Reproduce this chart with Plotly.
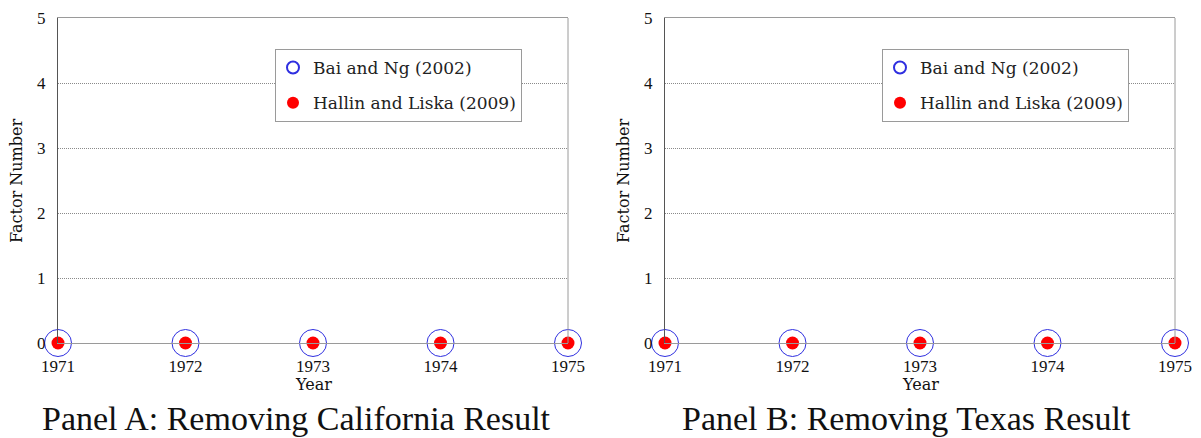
import plotly.graph_objects as go

years = [1971, 1972, 1973, 1974, 1975]
bai_ng_A = [0, 0, 0, 0, 0]
hallin_liska_A = [0, 0, 0, 0, 0]
bai_ng_B = [0, 0, 0, 0, 0]
hallin_liska_B = [0, 0, 0, 0, 0]
y_ticks = [0, 1, 2, 3, 4, 5]
panel_titles = ["Panel A: Removing California Result", "Panel B: Removing Texas Result"]
series_names = ["Bai and Ng (2002)", "Hallin and Liska (2009)"]

W, H = 1201, 438

def px(x):
    return x / W

def py(y):
    return 1 - y / H

TICKFONT = "Liberation Serif"
LABFONT = "DejaVu Serif"
BLUE = "#2f2fe0"
RED = "#ff0000"

fig = go.Figure()

panels = [
    dict(xa="x", ya="y", leg="legend", b=bai_ng_A, h=hallin_liska_A),
    dict(xa="x2", ya="y2", leg="legend2", b=bai_ng_B, h=hallin_liska_B),
]
for p in panels:
    fig.add_trace(go.Scatter(
        x=years, y=p["b"], mode="markers", name=series_names[0],
        xaxis=p["xa"], yaxis=p["ya"], legend=p["leg"], legendgroup="a" + p["leg"],
        cliponaxis=False,
        marker=dict(symbol="circle-open", size=27, color=BLUE, line=dict(width=1, color=BLUE)),
    ))
    fig.add_trace(go.Scatter(
        x=years, y=p["h"], mode="markers", name=series_names[1],
        xaxis=p["xa"], yaxis=p["ya"], legend=p["leg"], legendgroup="b" + p["leg"],
        cliponaxis=False,
        marker=dict(symbol="circle", size=13, color=RED),
    ))

top = py(18)
bot = py(343)
domA = [px(58), px(568)]
domB = [px(665), px(1175)]

def xaxis(dom, anchor):
    return dict(
        domain=dom, anchor=anchor, range=[1971, 1975], tickvals=years,
        ticktext=[str(v) for v in years], showgrid=False, zeroline=False,
        showline=True, linecolor="#9a9a9a", linewidth=1, mirror=True,
        ticks="", ticklabelstandoff=8, automargin=False,
        tickfont=dict(family=TICKFONT, size=17, color="#111"),
    )

def yaxis(anchor):
    return dict(
        domain=[bot, top], anchor=anchor, range=[0, 5], tickvals=y_ticks,
        showgrid=True, gridcolor="#8a8a8a", griddash="1px,1px", gridwidth=1,
        zeroline=False, showline=True, linecolor="#555555", linewidth=1,
        ticks="", ticklabelstandoff=8, automargin=False,
        tickfont=dict(family=TICKFONT, size=17, color="#111"),
    )

def legend(x):
    return dict(
        x=x, y=py(49), xanchor="left", yanchor="top",
        bgcolor="white", bordercolor="#9a9a9a", borderwidth=1,
        font=dict(family=LABFONT, size=17, color="#222"), itemsizing="constant",
        indentation=-3, tracegroupgap=10,
    )

fig.update_layout(
    width=W, height=H, margin=dict(l=0, r=0, t=0, b=0, autoexpand=False),
    font=dict(family=LABFONT),
    plot_bgcolor="white", paper_bgcolor="white",
    xaxis=xaxis(domA, "y"), yaxis=yaxis("x"),
    xaxis2=xaxis(domB, "y2"), yaxis2=yaxis("x2"),
    legend=legend(px(275)), legend2=legend(px(882)),
)

for dom, xa, ya, left in [(domA, "x", "y", 58), (domB, "x2", "y2", 665)]:
    fig.add_shape(type="line", xref=f"{xa} domain", yref=f"{ya} domain",
                  x0=1, x1=1, y0=0, y1=1, line=dict(color="#9a9a9a", width=1))
    cx = (dom[0] + dom[1]) / 2
    fig.add_annotation(x=cx, y=py(384), xref="paper", yref="paper", text="Year",
                       showarrow=False, xanchor="center", yanchor="middle",
                       font=dict(family=LABFONT, size=16, color="#111"))
    fig.add_annotation(x=px(left - 41), y=py(181), xref="paper", yref="paper",
                       text="Factor Number", textangle=-90, showarrow=False,
                       xanchor="center", yanchor="middle",
                       font=dict(family=LABFONT, size=16, color="#111"))

fig.add_annotation(x=px(296), y=py(418), xref="paper", yref="paper", text=panel_titles[0],
                   showarrow=False, xanchor="center", yanchor="middle",
                   font=dict(family=TICKFONT, size=34, color="#111"))
fig.add_annotation(x=px(906), y=py(418), xref="paper", yref="paper", text=panel_titles[1],
                   showarrow=False, xanchor="center", yanchor="middle",
                   font=dict(family=TICKFONT, size=34, color="#111"))

fig.write_html(
    "out.html",
    config={"displayModeBar": False},
    post_script="document.body.style.margin='0';document.body.style.overflow='hidden';",
)
